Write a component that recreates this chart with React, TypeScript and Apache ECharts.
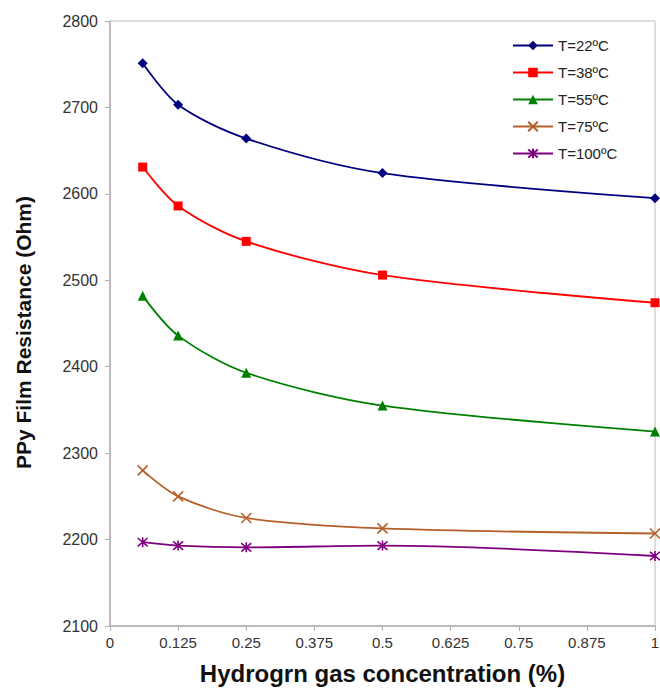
import React, { useEffect, useRef } from "react";
import * as echarts from "echarts";

const xValues = [0.06, 0.125, 0.25, 0.5, 1];
const seriesNames = ["T=22ºC", "T=38ºC", "T=55ºC", "T=75ºC", "T=100ºC"];
const t22 = [2751, 2703, 2664, 2624, 2595];
const t38 = [2631, 2586, 2545, 2506, 2474];
const t55 = [2482, 2436, 2393, 2355, 2325];
const t75 = [2280, 2250, 2225, 2213, 2207];
const t100 = [2197, 2193, 2191, 2193, 2181];
const yTicks = [2100, 2200, 2300, 2400, 2500, 2600, 2700, 2800];
const xTicks = [0, 0.125, 0.25, 0.375, 0.5, 0.625, 0.75, 0.875, 1];

const colors = ["#00007F", "#FF0000", "#008000", "#B5602B", "#7F007F"];
const symbols = [
  "diamond",
  "rect",
  "triangle",
  "path://M0,0 L10,10 M10,0 L0,10",
  "path://M0,0 L10,10 M10,0 L0,10 M5,-1 L5,11",
];
const symbolSizes = [10, 9, 10, 10, 10];

export default function App() {
  const ref = useRef<HTMLDivElement>(null);
  useEffect(() => {
    if (!ref.current) return;
    const chart = echarts.init(ref.current, undefined, { renderer: "svg" });
    const all = [t22, t38, t55, t75, t100];
    const font = "'Liberation Sans', Arial, sans-serif";
    chart.setOption({
      animation: false,
      backgroundColor: "#fff",
      textStyle: { fontFamily: font },
      grid: {
        left: 110,
        right: 5,
        top: 21,
        bottom: 63,
        outerBoundsMode: "none",
        containLabel: false,
        show: true,
        borderColor: "#bdbdbd",
        borderWidth: 1,
      },
      legend: {
        orient: "vertical",
        left: 507,
        top: 33,
        itemWidth: 40,
        itemHeight: 12,
        itemGap: 12,
        textStyle: { fontSize: 15, color: "#222", fontFamily: font },
        data: seriesNames,
      },
      xAxis: {
        type: "value",
        min: 0,
        max: 1,
        interval: 0.125,
        name: "Hydrogrn gas concentration (%)",
        nameLocation: "middle",
        nameGap: 35,
        nameTextStyle: { fontSize: 24, fontWeight: "bold", color: "#111", fontFamily: font },
        axisLine: { lineStyle: { color: "#b0b0b0", width: 1.5 } },
        axisTick: { show: true, length: 5, lineStyle: { color: "#b0b0b0" } },
        axisLabel: {
          fontSize: 15,
          color: "#333",
          margin: 9,
          formatter: (v: number) => (xTicks.includes(v) ? String(v) : ""),
        },
        splitLine: { show: false },
      },
      yAxis: {
        type: "value",
        min: yTicks[0],
        max: yTicks[yTicks.length - 1],
        interval: 100,
        name: "PPy Film Resistance (Ohm)",
        nameLocation: "middle",
        nameGap: 76,
        nameTextStyle: {
          fontSize: 21,
          fontWeight: "bold",
          color: "#111",
          fontFamily: font,
          padding: [0, 18, 0, 0],
        },
        axisLine: { show: true, lineStyle: { color: "#b0b0b0", width: 1.5 } },
        axisTick: { show: true, length: 5, lineStyle: { color: "#b0b0b0" } },
        axisLabel: {
          fontSize: 16,
          color: "#333",
          margin: 12,
          formatter: (v: number) => String(v),
        },
        splitLine: { show: false },
      },
      series: all.map((vals, i) => ({
        name: seriesNames[i],
        type: "line",
        smooth: 0.3,
        data: vals.map((v, j) => [xValues[j], v]),
        symbol: symbols[i],
        symbolSize: symbolSizes[i],
        showAllSymbol: true,
        lineStyle: { color: colors[i], width: 1.8 },
        itemStyle: {
          color: colors[i],
          borderColor: colors[i],
          borderWidth: i >= 3 ? 1.6 : 0,
        },
      })),
    });
    return () => chart.dispose();
  }, []);
  return (
    <div
      ref={ref}
      style={{ position: "fixed", left: 0, top: 0, width: 660, height: 689 }}
    />
  );
}
